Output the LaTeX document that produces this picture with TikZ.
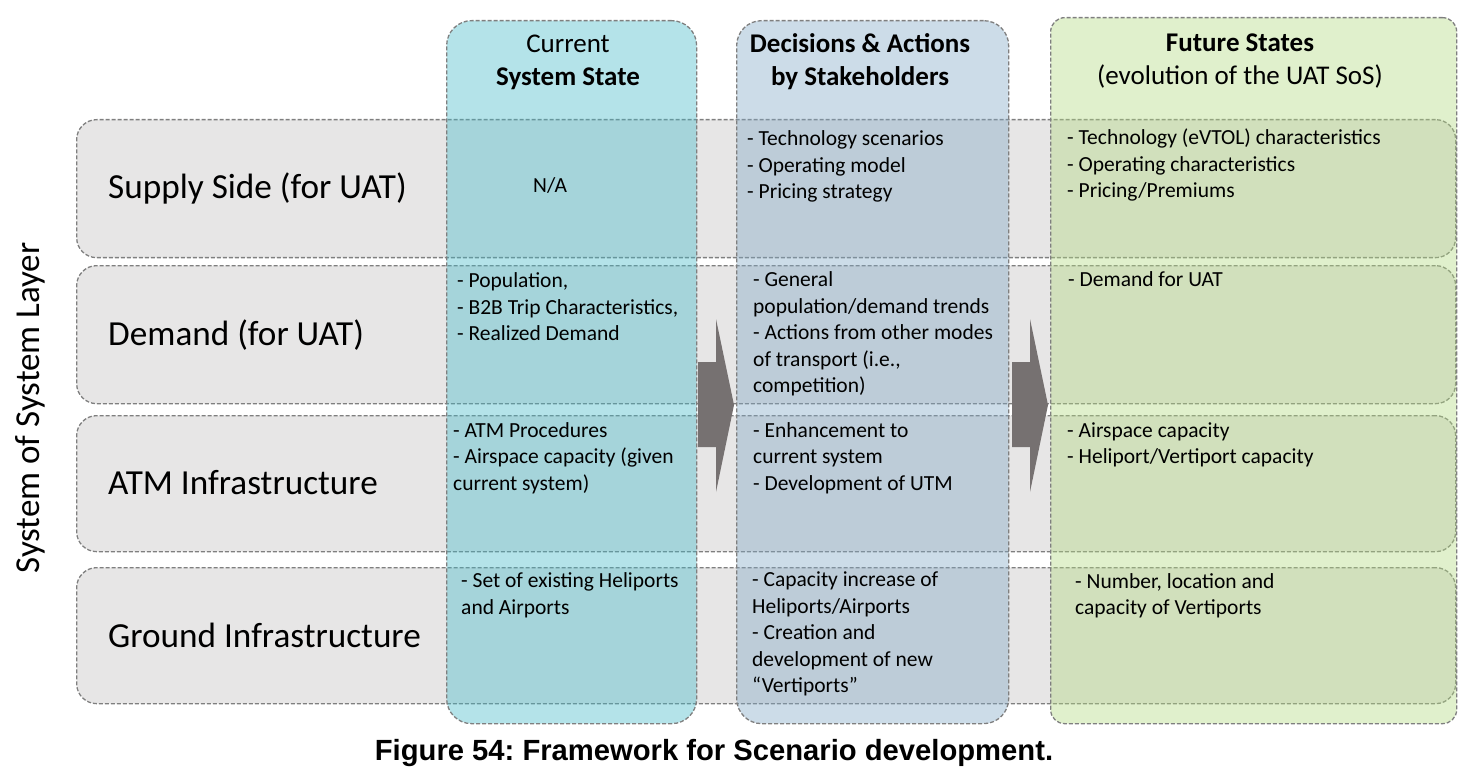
\documentclass[tikz,border=0pt]{standalone}
\usepackage{fontspec}
\setmainfont{Carlito}
\newfontfamily\captionfont{Liberation Sans}
\frenchspacing
\definecolor{rowgray}{HTML}{E7E6E6}
\definecolor{dashgray}{HTML}{7F7F7F}
\definecolor{arrowgray}{HTML}{767171}
\definecolor{stateteal}{RGB}{67,185,200}
\definecolor{decisionblue}{RGB}{127,167,197}
\definecolor{futuregreen}{RGB}{177,217,127}
\tikzset{
  dashedge/.style={draw=dashgray, line width=1.3pt, dash pattern=on 4pt off 2pt},
  layer/.style={dashedge, fill=rowgray, rounded corners=20pt, anchor=north west,
    inner sep=0pt, minimum width=1379pt},
  column/.style={dashedge, fill opacity=0.4, anchor=north west, inner sep=0pt},
  layerlabel/.style={anchor=base west, inner sep=0pt, font=\fontsize{35.2}{42}\selectfont},
  cell/.style={anchor=base west, inner sep=0pt, font=\fontsize{21.5}{26.5}\selectfont},
  header/.style={anchor=base, inner sep=0pt, font=\fontsize{27}{32.5}\selectfont},
  flowarrow/.style={fill=arrowgray},
}
\newcommand{\lines}[1]{\begin{tabular}[t]{@{}l@{}}#1\end{tabular}}
\newcommand{\clines}[1]{\begin{tabular}[t]{@{}c@{}}#1\end{tabular}}
\begin{document}
\begin{tikzpicture}[x=1pt, y=-1pt]
\useasboundingbox (0,0) rectangle (1470,770);

% system layers (rows)
\node[layer, minimum height=138pt] (supply) at (76,119) {};
\node[layer, minimum height=138pt] (demand) at (76,265) {};
\node[layer, minimum height=136pt] (atm) at (76,415) {};
\node[layer, minimum height=136pt] (ground) at (76,567) {};

% phases (columns), tinted over the layers
\node[column, fill=stateteal, rounded corners=25pt, minimum width=250pt, minimum height=703pt] (current) at (446,20) {};
\node[column, fill=decisionblue, rounded corners=25pt, minimum width=272pt, minimum height=703pt] (decisions) at (736,20) {};
\node[column, fill=futuregreen, rounded corners=14pt, minimum width=406pt, minimum height=706pt] (future) at (1050,17) {};

% block arrows between the phases
\fill[flowarrow] (698,362) -- (716,362) -- (716,319) -- (734,405) -- (716,492) -- (716,447) -- (698,447) -- cycle;
\fill[flowarrow] (1012,362) -- (1030,362) -- (1030,319) -- (1048,405) -- (1030,492) -- (1030,447) -- (1012,447) -- cycle;

% axis label
\node[rotate=90, anchor=base, inner sep=0pt, font=\fontsize{35}{42}\selectfont] (axis) at (39,408) {System of System Layer};

% layer labels
\node[layerlabel] (supplylbl) at (108,199) {Supply Side (for UAT)};
\node[layerlabel] (demandlbl) at (108,345) {Demand (for UAT)};
\node[layerlabel] (atmlbl) at (108,494) {ATM Infrastructure};
\node[layerlabel] (groundlbl) at (108,647) {Ground Infrastructure};

% column headers
\node[header] (currenthd) at (568,53) {\clines{Current\\\bfseries System State}};
\node[header] (decisionshd) at (860,53) {\clines{\bfseries Decisions \& Actions\\\bfseries by Stakeholders}};
\node[header] (futurehd) at (1240,52) {\clines{\bfseries Future States\\(evolution of the UAT SoS)}};

% current system state
\node[cell] (cs1) at (533,193) {N/A};
\node[cell] (cs2) at (457,287.5) {\lines{- Population,\\- B2B Trip Characteristics,\\- Realized Demand}};
\node[cell] (cs3) at (453,437) {\lines{- ATM Procedures\\- Airspace capacity (given\\current system)}};
\node[cell] (cs4) at (461,587.5) {\lines{- Set of existing Heliports\\and Airports}};

% decisions and actions
\node[cell] (da1) at (747,146) {\lines{- Technology scenarios\\- Operating model\\- Pricing strategy}};
\node[cell] (da2) at (753,287) {\lines{- General\\population/demand trends\\- Actions from other modes\\of transport (i.e.,\\competition)}};
\node[cell] (da3) at (753,437) {\lines{- Enhancement to\\current system\\- Development of UTM}};
\node[cell] (da4) at (752,586.5) {\lines{- Capacity increase of\\Heliports/Airports\\- Creation and\\development of new\\“Vertiports”}};

% future states
\node[cell] (fs1) at (1067,145) {\lines{- Technology (eVTOL) characteristics\\- Operating characteristics\\- Pricing/Premiums}};
\node[cell] (fs2) at (1068,287) {- Demand for UAT};
\node[cell] (fs3) at (1067,437) {\lines{- Airspace capacity\\- Heliport/Vertiport capacity}};
\node[cell] (fs4) at (1075,588) {\lines{- Number, location and\\capacity of Vertiports}};

% caption
\node[anchor=base, inner sep=0pt, font=\captionfont\bfseries\fontsize{29.2}{34}\selectfont] (caption) at (714,760) {Figure 54: Framework for Scenario development.};
\end{tikzpicture}
\end{document}
